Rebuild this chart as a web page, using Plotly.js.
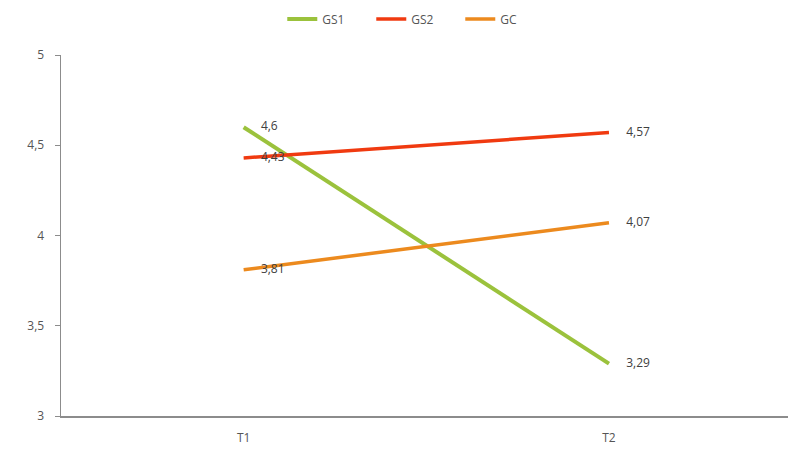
<!DOCTYPE html>
<html>
<head>
<meta charset="utf-8">
<script src="https://cdn.plot.ly/plotly-3.0.1.min.js"></script>
<style>html,body{margin:0;padding:0;background:#fff;}#chart{width:788px;height:452px;}</style>
</head>
<body>
<div id="chart"></div>
<script>
// Mean scores per group at two time points
const times = ['T1', 'T2'];
const gs1 = [4.6, 3.29];
const gs2 = [4.43, 4.57];
const gc = [3.81, 4.07];
const yTicks = [3, 3.5, 4, 4.5, 5];

const fmt = v => String(v).replace('.', ',');

function series(name, values, color, width) {
  return {
    type: 'scatter',
    mode: 'lines+markers+text',
    name: name,
    x: times,
    y: values,
    text: values.map(fmt),
    textposition: 'middle right',
    textfont: {family: 'Open Sans, sans-serif', size: 12, color: '#404040'},
    line: {color: color, width: width},
    // invisible markers keep the value labels clear of the line ends
    marker: {size: 26, color: 'rgba(0,0,0,0)'},
    cliponaxis: false,
    hoverinfo: 'skip'
  };
}

const data = [
  series('GS1', gs1, '#9BC23C', 4),
  series('GS2', gs2, '#F03A10', 3.5),
  series('GC', gc, '#EC8A1E', 3.5)
];

const layout = {
  width: 788,
  height: 452,
  margin: {l: 61, r: 0, t: 55, b: 36},
  paper_bgcolor: '#ffffff',
  plot_bgcolor: '#ffffff',
  separators: ',.',
  font: {family: 'Open Sans, sans-serif', size: 12, color: '#555555'},
  showlegend: true,
  legend: {
    orientation: 'h',
    x: 0.488,
    xanchor: 'center',
    y: 1.1,
    yanchor: 'middle',
    font: {size: 12, color: '#555555'},
    itemwidth: 30,
    entrywidth: 44,
    traceorder: 'normal'
  },
  xaxis: {
    type: 'category',
    range: [-0.5, 1.49],
    showgrid: false,
    zeroline: false,
    showline: true,
    linecolor: '#8c8c8c',
    linewidth: 1.5,
    ticks: '',
    ticklabelstandoff: 10,
    tickfont: {size: 12, color: '#555555'},
    fixedrange: true
  },
  yaxis: {
    range: [3, 5],
    tickvals: yTicks,
    ticktext: yTicks.map(fmt),
    showgrid: false,
    zeroline: false,
    showline: true,
    linecolor: '#8c8c8c',
    linewidth: 1.5,
    ticks: 'outside',
    ticklen: 5,
    tickcolor: '#8c8c8c',
    ticklabelstandoff: 8,
    tickfont: {size: 12, color: '#555555'},
    fixedrange: true
  }
};

Plotly.newPlot('chart', data, layout, {displayModeBar: false, staticPlot: true});
</script>
</body>
</html>
